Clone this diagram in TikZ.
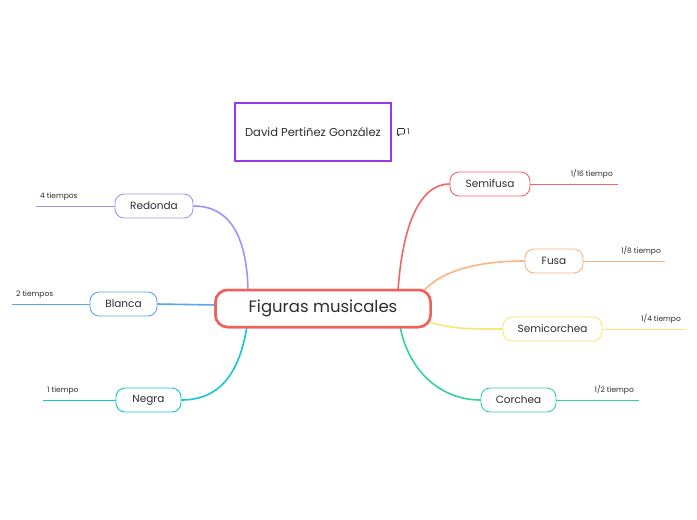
\documentclass[tikz,border=0pt]{standalone}
\usepackage{fontspec}
\setmainfont{Poppins}
\usetikzlibrary{calc}
\definecolor{txt}{RGB}{45,45,50}
\definecolor{cred}{RGB}{240,96,90}
\definecolor{cpurp}{RGB}{155,55,230}
\definecolor{credo}{RGB}{165,145,250}
\definecolor{cblan}{RGB}{90,165,240}
\definecolor{cnegr}{RGB}{20,200,210}
\definecolor{csemi}{RGB}{245,100,100}
\definecolor{cfusa}{RGB}{250,180,130}
\definecolor{csco}{RGB}{246,232,120}
\definecolor{ccor}{RGB}{50,210,160}
\tikzset{
  topic/.style={draw, rounded corners=9pt, minimum height=24pt, inner sep=0pt, line width=0.9pt, text=txt, font=\fontsize{10.5}{12}\selectfont, fill=white},
  leaf/.style={font=\fontsize{7.5}{9}\selectfont, text=txt, inner sep=0pt},
  branch/.style={line width=1.6pt},
}
\begin{document}
\begin{tikzpicture}[x=1pt,y=-1pt]
\useasboundingbox[fill=white] (0,0) rectangle (697,520);
% central
\node[draw=cred, line width=2.5pt, rounded corners=12pt, minimum width=215pt, minimum height=37pt, text=txt, font=\fontsize{16.5}{20}\selectfont, fill=white] (c) at (323,308.5) {Figuras musicales};
% author box
\node[draw=cpurp, line width=1.8pt, minimum width=156pt, minimum height=58pt, text=txt, font=\fontsize{11.5}{14}\selectfont] (d) at (313,132) {David Pertiñez González};
% comment icon
\coordinate (ic) at (401,132);
\draw[txt, line width=0.6pt, rounded corners=0.8pt] ($(ic)+(-3.5,-3.5)$) -- ($(ic)+(3.5,-3.5)$) -- ($(ic)+(3.5,2)$) -- ($(ic)+(-1,2)$) -- ($(ic)+(-3,4.5)$) -- ($(ic)+(-3,2)$) -- ($(ic)+(-3.5,2)$) -- cycle;
\node[leaf, anchor=west, font=\fontsize{8}{9}\selectfont] (icn) at (407,131.5) {1};

% topics
\node[topic, draw=credo, minimum width=78pt] (redo) at (154,206) {Redonda};
\node[topic, draw=cblan, minimum width=67pt] (blan) at (123.5,304) {Blanca};
\node[topic, draw=cnegr, minimum width=65pt] (negr) at (148.5,400) {Negra};
\node[topic, draw=csemi, minimum width=80pt] (semi) at (490,184) {Semifusa};
\node[topic, draw=cfusa, minimum width=58pt] (fusa) at (554,261) {Fusa};
\node[topic, draw=csco, minimum width=99pt] (sco) at (552.5,329) {Semicorchea};
\node[topic, draw=ccor, minimum width=75pt] (cor) at (518.5,400) {Corchea};

% branch start points on central node
\coordinate (sRedo) at (248,291);
\coordinate (sBlan) at (216,305);
\coordinate (sNegr) at (247,326);
\coordinate (sSemi) at (398,291);
\coordinate (sFusa) at (422,293);
\coordinate (sSco) at (429,322);
\coordinate (sCor) at (400,326);

\begin{scope}[on background layer/.style={}]
\draw[branch, credo] (sRedo) .. controls (247,240) and (232,206) .. (redo.east);
\draw[branch, cblan] (sBlan) -- (blan.east);
\draw[branch, cnegr] (sNegr) .. controls (240,370) and (222,400) .. (negr.east);
\draw[branch, csemi] (sSemi) .. controls (402,230) and (418,184) .. (semi.west);
\draw[branch, cfusa] (sFusa) .. controls (440,270) and (480,261) .. (fusa.west);
\draw[branch, csco] (sSco) .. controls (455,330) and (480,329) .. (sco.west);
\draw[branch, ccor] (sCor) .. controls (408,370) and (440,400) .. (cor.west);
\end{scope}

% leaf lines
\coordinate (eRedo) at (36,206);
\coordinate (eBlan) at (12,304);
\coordinate (eNegr) at (43,400);
\coordinate (eSemi) at (618,184);
\coordinate (eFusa) at (665,261);
\coordinate (eSco) at (686,329);
\coordinate (eCor) at (639,400);
\draw[credo, line width=1pt] (redo.west) -- (eRedo);
\draw[cblan, line width=1pt] (blan.west) -- (eBlan);
\draw[cnegr, line width=1pt] (negr.west) -- (eNegr);
\draw[csemi, line width=1pt] (semi.east) -- (eSemi);
\draw[cfusa, line width=1pt] (fusa.east) -- (eFusa);
\draw[csco, line width=1pt] (sco.east) -- (eSco);
\draw[ccor, line width=1pt] (cor.east) -- (eCor);

% leaf labels
\node[leaf, anchor=south west] (lRedo) at (40,201) {4 tiempos};
\node[leaf, anchor=south west] (lBlan) at (16,299) {2 tiempos};
\node[leaf, anchor=south west] (lNegr) at (47,395) {1 tiempo};
\node[leaf, anchor=south east] (lSemi) at (613,179) {1/16 tiempo};
\node[leaf, anchor=south east] (lFusa) at (661,256) {1/8 tiempo};
\node[leaf, anchor=south east] (lSco) at (681,324) {1/4 tiempo};
\node[leaf, anchor=south east] (lCor) at (634,395) {1/2 tiempo};

% redraw nodes on top of branches
\node[draw=cred, line width=2.5pt, rounded corners=12pt, minimum width=215pt, minimum height=37pt, text=txt, font=\fontsize{16.5}{20}\selectfont, fill=white] at (c) {Figuras musicales};
\end{tikzpicture}
\end{document}
